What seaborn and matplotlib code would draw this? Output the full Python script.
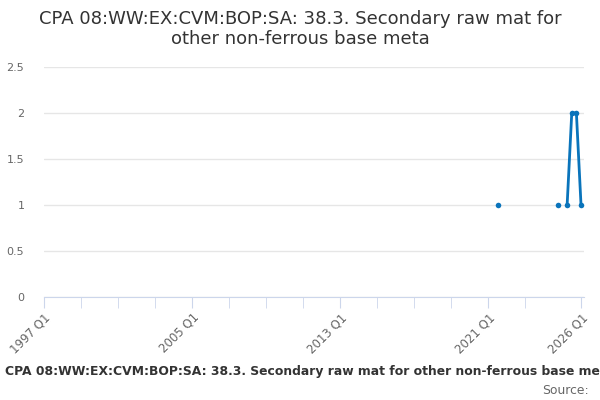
#!/usr/bin/env python3
import numpy as np
import pandas as pd
import seaborn as sns
from matplotlib import pyplot as plt

title = "CPA 08:WW:EX:CVM:BOP:SA: 38.3. Secondary raw mat for\nother non-ferrous base meta"
footer = "CPA 08:WW:EX:CVM:BOP:SA: 38.3. Secondary raw mat for other non-ferrous base metal"

# quarters that have a value (all others are missing)
quarters = ["2021 Q3", "2024 Q4", "2025 Q2", "2025 Q3", "2025 Q4", "2026 Q1"]
values = [1, 1, 1, 2, 2, 1]

tick_labels = ["1997 Q1", "2005 Q1", "2013 Q1", "2021 Q1", "2026 Q1"]


def qpos(q):
    y, n = q.split(" Q")
    return (int(y) - 1997) * 4 + int(n) - 1


def main():
    df = pd.DataFrame({"pos": [qpos(q) for q in quarters], "value": values})
    # break the line where quarters are missing
    df["run"] = (df["pos"].diff() != 1).cumsum()

    sns.set_style("white")
    plt.rcParams["font.family"] = ["DejaVu Sans"]
    fig = plt.figure(figsize=(6, 4), dpi=100)
    ax = fig.add_axes([0.073, 0.2575, 0.9, 0.575])

    sns.lineplot(data=df, x="pos", y="value", units="run", estimator=None,
                 color="#0a74bb", linewidth=2, marker="o", markersize=4,
                 markeredgewidth=0, ax=ax)

    ax.set_xlim(0, 116.6)
    ax.set_ylim(0, 2.5)
    ax.set_yticks([0, 0.5, 1, 1.5, 2, 2.5], ["0", "0.5", "1", "1.5", "2", "2.5"])
    ax.yaxis.grid(True, color="#e6e6e6", linewidth=1)
    ax.set_axisbelow(True)

    minor = list(range(0, 105, 8)) + [116]
    ax.set_xticks(minor, minor=True)
    ax.set_xticks([qpos(t) for t in tick_labels], tick_labels, rotation=45,
                  ha="right", rotation_mode="anchor")
    ax.tick_params(axis="x", which="both", length=8, color="#ccd6eb",
                   labelsize=8.5, labelcolor="#666666", direction="out",
                   bottom=True, pad=2)
    ax.tick_params(axis="y", length=0, labelsize=8, labelcolor="#666666", pad=14)

    for s in ["top", "right", "left"]:
        ax.spines[s].set_visible(False)
    ax.spines["bottom"].set_color("#ccd6eb")
    ax.set_xlabel("")
    ax.set_ylabel("")

    fig.text(0.5, 0.975, title, ha="center", va="top", fontsize=13,
             color="#333333", linespacing=1.15)
    fig.text(0.008, 0.07, footer, ha="left", va="center", fontsize=8.9,
             fontweight="bold", color="#333333")
    fig.text(0.982, 0.025, "Source:", ha="right", va="center", fontsize=8.9,
             color="#666666")

    plt.savefig("out.png")


if __name__ == '__main__':
    main()
